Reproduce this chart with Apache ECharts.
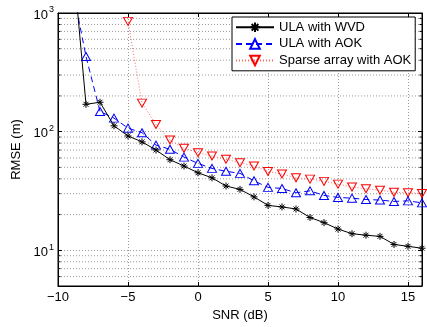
<!DOCTYPE html>
<html>
<head>
<meta charset="utf-8">
<script src="https://cdn.jsdelivr.net/npm/echarts@6/dist/echarts.min.js"></script>
<style>
  html, body { margin: 0; padding: 0; background: #fff; }
  #chart { width: 427px; height: 327px; }
</style>
</head>
<body>
<div id="chart"></div>
<script>
// SNR values (dB)
const snr = [-10, -9, -8, -7, -6, -5, -4, -3, -2, -1, 0, 1, 2, 3, 4, 5, 6, 7, 8, 9, 10, 11, 12, 13, 14, 15, 16];

// RMSE (m)
const ulaWvd = [6000, 3400, 170, 177, 112, 92, 82, 70, 58, 51.3, 45, 40.8, 34.8, 32.6, 28.2, 23.9, 23.2, 22.3, 18.9, 17.1, 15.1, 13.8, 13.4, 13.1, 11.2, 10.8, 10.4];
const ulaAok = [1080, 1700, 430, 148, 130, 107, 98, 77, 71, 61, 54, 49, 46.3, 44.5, 38.5, 33.9, 33.2, 30.5, 31.7, 29, 27.9, 27.5, 26.8, 26.5, 25.8, 26.1, 25.1];
const sparseAok = [null, null, null, null, null, 850, 174, 115, 85, 72.4, 66.5, 62.3, 58.5, 54.7, 51.3, 46.2, 43.9, 40.8, 39.8, 38.1, 36.1, 34.1, 33, 32.1, 30.8, 30.5, 30.1];

const seriesNames = ['ULA with WVD', 'ULA with AOK', 'Sparse array with AOK'];

// log axis range and the minor (2..9 x 10^n) grid values
const yMin = 5, yMax = 1000;
const xMin = -10, xMax = 16;
const minorVals = [6, 7, 8, 9, 20, 30, 40, 50, 60, 70, 80, 90, 200, 300, 400, 500, 600, 700, 800, 900];

const font = 'Liberation Sans, Arial, Helvetica, sans-serif';
const gridDot = [1, 2];

const pairs = ys => snr.map((x, i) => [x, ys[i]]);

const star = 'path://M0,5L10,5M5,0L5,10M1.5,1.5L8.5,8.5M1.5,8.5L8.5,1.5';

const chart = echarts.init(document.getElementById('chart'));

const logLabel = v => {
  const p = Math.log10(v);
  if (Math.abs(p - Math.round(p)) > 1e-6) return '';
  return '{b|10}{s|' + Math.round(p) + '}';
};

const option = {
  animation: false,
  textStyle: { fontFamily: font },
  grid: { left: 58, right: 5, top: 13, bottom: 41, show: true, borderColor: '#000', borderWidth: 1 },
  legend: {
    data: seriesNames,
    orient: 'vertical',
    left: 232,
    top: 17,
    padding: [3, 4, 3, 3],
    itemGap: 2,
    itemWidth: 38,
    itemHeight: 12,
    itemTextGap: 3,
    backgroundColor: '#fff',
    borderColor: '#000',
    borderWidth: 1,
    borderRadius: 0,
    textStyle: { fontSize: 13, color: '#000', fontFamily: font }
  },
  xAxis: [
    {
      type: 'value', min: xMin, max: xMax, interval: 5,
      name: 'SNR (dB)', nameLocation: 'middle', nameGap: 17,
      nameTextStyle: { fontSize: 13, color: '#000' },
      axisLine: { onZero: false, lineStyle: { color: '#000' } },
      axisTick: { inside: true, length: 4, lineStyle: { color: '#000' } },
      axisLabel: {
        margin: 5, fontSize: 13, color: '#000',
        formatter: v => (v % 5 === 0 ? String(v).replace('-', '\u2212') : '')
      },
      splitLine: { show: true, lineStyle: { color: '#999', type: gridDot } }
    },
    {
      type: 'value', min: xMin, max: xMax, interval: 5, position: 'top',
      axisLine: { onZero: false, lineStyle: { color: '#000' } },
      axisTick: { inside: true, length: 4, lineStyle: { color: '#000' } },
      axisLabel: { show: false },
      splitLine: { show: false }
    }
  ],
  yAxis: [
    {
      type: 'log', logBase: 10, min: yMin, max: yMax,
      name: 'RMSE (m)', nameLocation: 'middle', nameGap: 29,
      nameTextStyle: { fontSize: 13, color: '#000' },
      axisLine: { onZero: false, lineStyle: { color: '#000' } },
      axisTick: { inside: true, length: 4, lineStyle: { color: '#000' } },
      axisLabel: {
        margin: 4, color: '#000',
        formatter: logLabel,
        rich: {
          b: { fontSize: 13, color: '#000', fontFamily: font, padding: [4, 0, 0, 0] },
          s: { fontSize: 9, color: '#000', fontFamily: font, padding: [0, 0, 6, 1] }
        }
      },
      splitLine: { show: true, lineStyle: { color: '#999', type: gridDot } }
    },
    {
      type: 'log', logBase: 10, min: yMin, max: yMax, position: 'right',
      axisLine: { onZero: false, lineStyle: { color: '#000' } },
      axisTick: { inside: true, length: 4, lineStyle: { color: '#000' } },
      axisLabel: { show: false },
      splitLine: { show: false }
    }
  ],
  series: [
    {
      // minor log grid lines + minor ticks on both sides
      type: 'custom',
      silent: true,
      z: 1,
      xAxisIndex: 0, yAxisIndex: 0,
      data: minorVals.map(v => [xMin, v]),
      renderItem: (params, api) => {
        const v = api.value(1);
        const a = api.coord([xMin, v]);
        const b = api.coord([xMax, v]);
        return {
          type: 'group',
          children: [
            { type: 'line', shape: { x1: a[0], y1: a[1], x2: b[0], y2: b[1] },
              style: { stroke: '#999', lineWidth: 1, lineDash: gridDot } },
            { type: 'line', shape: { x1: a[0], y1: a[1], x2: a[0] + 2.5, y2: a[1] },
              style: { stroke: '#000', lineWidth: 1 } },
            { type: 'line', shape: { x1: b[0] - 2.5, y1: b[1], x2: b[0], y2: b[1] },
              style: { stroke: '#000', lineWidth: 1 } }
          ]
        };
      }
    },
    {
      name: seriesNames[0],
      type: 'line',
      data: pairs(ulaWvd),
      color: '#000',
      symbol: star,
      symbolSize: 7,
      showAllSymbol: true,
      itemStyle: { color: 'none', borderColor: '#000', borderWidth: 1 },
      lineStyle: { color: '#000', width: 1 },
      z: 4
    },
    {
      name: seriesNames[1],
      type: 'line',
      data: pairs(ulaAok),
      color: '#0000ff',
      symbol: 'triangle',
      symbolSize: [9, 8],
      showAllSymbol: true,
      itemStyle: { color: 'none', borderColor: '#0000ff', borderWidth: 1 },
      lineStyle: { color: '#0000ff', width: 1, type: [6, 4] },
      z: 3
    },
    {
      name: seriesNames[2],
      type: 'line',
      data: pairs(sparseAok),
      color: '#ff0000',
      symbol: 'triangle',
      symbolRotate: 180,
      symbolSize: [9, 8],
      showAllSymbol: true,
      itemStyle: { color: 'none', borderColor: '#ff0000', borderWidth: 1 },
      lineStyle: { color: '#ff6666', width: 1, type: [1, 2] },
      z: 2
    }
  ]
};

chart.setOption(option);
</script>
</body>
</html>
